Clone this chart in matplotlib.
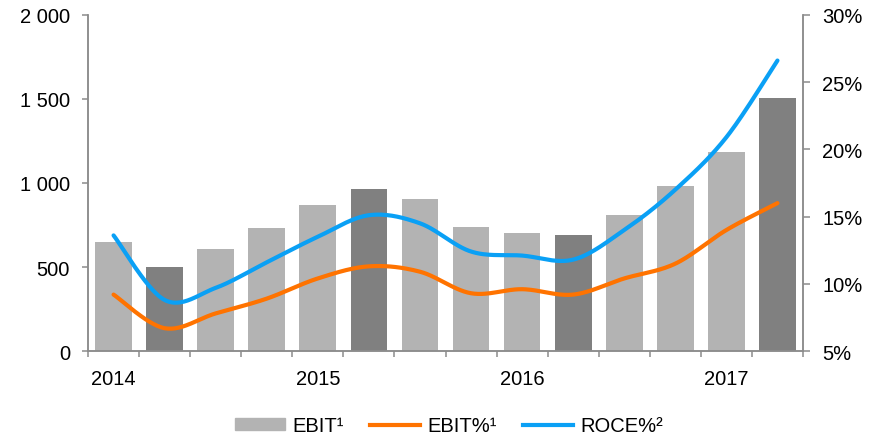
import numpy as np
import matplotlib
matplotlib.use("Agg")
import matplotlib.pyplot as plt
from matplotlib.ticker import FuncFormatter, FixedLocator
from matplotlib.patches import Patch
from matplotlib.lines import Line2D

plt.rcParams['font.family'] = ['Liberation Sans', 'DejaVu Sans']

# quarterly data (Q4 bars are darker)
ebit = [650, 500, 610, 730, 870, 965, 905, 740, 705, 692, 812, 980, 1182, 1504]
ebit_pct = [9.2, 6.7, 7.8, 8.9, 10.4, 11.3, 10.9, 9.3, 9.6, 9.2, 10.4, 11.5, 14.0, 16.0]
roce_pct = [13.6, 8.8, 9.7, 11.6, 13.5, 15.1, 14.5, 12.4, 12.1, 11.8, 14.0, 17.0, 20.9, 26.6]
dark_idx = [1, 5, 9, 13]
year_pos = [0, 4, 8, 12]
year_labels = ["2014", "2015", "2016", "2017"]

light = "#b3b3b3"
dark = "#808080"
orange = "#ff7300"
blue = "#0aa0f5"
spine_col = "#8c8c8c"
fs = 14.5


def smooth(x, y, n=30):
    # Excel-like smoothed line (Catmull-Rom style bezier between points)
    x = np.asarray(x, float)
    y = np.asarray(y, float)
    px = np.concatenate([[x[0]], x, [x[-1]]])
    py = np.concatenate([[y[0]], y, [y[-1]]])
    xs, ys = [], []
    t = np.linspace(0, 1, n)
    for i in range(1, len(px) - 2):
        p0 = np.array([px[i], py[i]])
        p3 = np.array([px[i + 1], py[i + 1]])
        p1 = p0 + (np.array([px[i + 1], py[i + 1]]) - np.array([px[i - 1], py[i - 1]])) / 6
        p2 = p3 - (np.array([px[i + 2], py[i + 2]]) - np.array([px[i], py[i]])) / 6
        b = ((1 - t) ** 3)[:, None] * p0 + (3 * (1 - t) ** 2 * t)[:, None] * p1 \
            + (3 * (1 - t) * t ** 2)[:, None] * p2 + (t ** 3)[:, None] * p3
        xs.append(b[:, 0])
        ys.append(b[:, 1])
    return np.concatenate(xs), np.concatenate(ys)


fig = plt.figure(figsize=(8.75, 4.39), dpi=100)
ax = fig.add_axes([0.1006, 0.198, 0.8171, 0.766])

x = np.arange(len(ebit))
colors = [dark if i in dark_idx else light for i in x]
ax.bar(x, ebit, width=0.72, color=colors, zorder=2)
ax.set_xlim(-0.5, len(ebit) - 0.5)
ax.set_ylim(0, 2000)
ax.set_yticks([0, 500, 1000, 1500, 2000])
ax.yaxis.set_major_formatter(FuncFormatter(lambda v, p: f"{v:,.0f}".replace(",", " ")))

ax.set_xticks(year_pos)
ax.set_xticklabels(year_labels)
ax.xaxis.set_minor_locator(FixedLocator(np.arange(-0.5, len(ebit), 1.0)))
ax.tick_params(axis="x", which="major", length=0, pad=13, labelsize=fs)
ax.tick_params(axis="x", which="minor", length=4, width=1.1, color=spine_col, direction="out")
ax.tick_params(axis="y", length=4, width=1.1, color=spine_col, pad=9, labelsize=fs)

ax2 = ax.twinx()
ax2.set_ylim(5, 30)
ax2.set_yticks([5, 10, 15, 20, 25, 30])
ax2.yaxis.set_major_formatter(FuncFormatter(lambda v, p: f"{v:.0f}%"))
ax2.tick_params(axis="y", length=5, width=1.1, color=spine_col, pad=9, labelsize=fs)

sx, sy = smooth(x, ebit_pct)
ax2.plot(sx, sy, color=orange, lw=3, solid_capstyle="round")
sx, sy = smooth(x, roce_pct)
ax2.plot(sx, sy, color=blue, lw=3, solid_capstyle="round")

for a in (ax, ax2):
    a.spines["top"].set_visible(False)
    for s in ("left", "right", "bottom"):
        a.spines[s].set_color(spine_col)
        a.spines[s].set_linewidth(1.1)

handles = [Patch(color=light), Line2D([], [], color=orange, lw=3), Line2D([], [], color=blue, lw=3)]
fig.legend(handles, ["EBIT\u00b9", "EBIT%\u00b9", "ROCE%\u00b2"], loc="center",
           bbox_to_anchor=(0.513, 0.028), ncol=3, frameon=False, fontsize=fs,
           handlelength=2.5, handletextpad=0.35, columnspacing=1.3, handleheight=0.5)

fig.savefig("out.png", dpi=100)
